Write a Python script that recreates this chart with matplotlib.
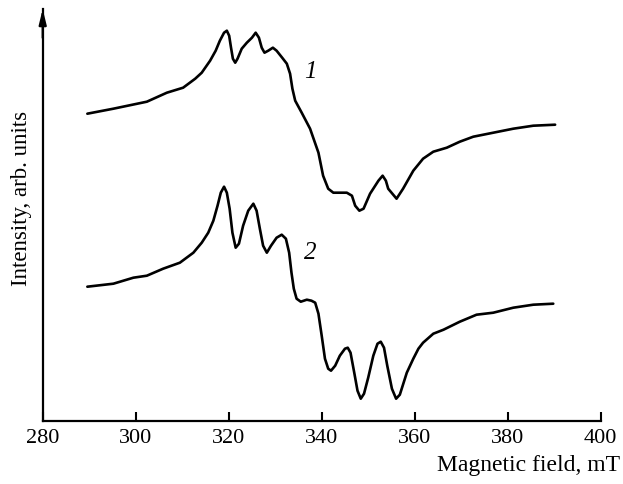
import matplotlib
matplotlib.use("Agg")
import matplotlib.pyplot as plt

# ---- data ----
field_1 = [289.6, 295.2, 302.4, 306.7, 310.2, 312.8, 314.2, 316.0, 317.2, 318.1,
           319.0, 319.6, 320.1, 320.5, 320.9, 321.4, 321.9, 322.8, 323.9, 325.0,
           325.8, 326.5, 327.1, 327.7, 328.5, 329.5, 330.3, 331.5, 332.5, 333.2,
           333.7, 334.3, 335.7, 337.5, 339.3, 340.3, 341.4, 342.5, 345.4, 346.5,
           347.2, 348.1, 349.0, 350.4, 352.2, 353.1, 353.8, 354.3, 356.1, 357.5,
           359.7, 361.8, 364.0, 366.9, 369.7, 372.6, 376.9, 381.2, 385.5, 390.2]
intensity_1 = [307, 312, 319, 328, 333, 342, 348, 360, 370, 380,
               388, 390, 385, 373, 362, 358, 362, 372, 378, 383,
               388, 383, 373, 368, 370, 373, 370, 363, 357, 347,
               332, 320, 308, 292, 268, 245, 232, 228, 228, 225,
               215, 210, 212, 227, 240, 245, 240, 232, 222, 232,
               250, 262, 269, 273, 279, 284, 288, 292, 295, 296]

field_2 = [289.6, 295.2, 299.5, 302.4, 305.9, 309.5, 312.4, 314.2, 315.6, 316.7,
           317.6, 318.3, 319.0, 319.6, 320.2, 320.8, 321.5, 322.2, 323.1, 324.2,
           325.3, 326.0, 326.7, 327.4, 328.2, 329.1, 330.3, 331.4, 332.3, 333.0,
           333.5, 334.0, 334.6, 335.5, 336.8, 337.8, 338.6, 339.3, 340.0, 340.7,
           341.4, 342.0, 342.9, 343.9, 345.0, 345.6, 346.2, 347.0, 347.7, 348.4,
           349.1, 350.0, 351.1, 352.0, 352.7, 353.4, 354.1, 355.1, 356.0, 356.8,
           358.3, 359.7, 360.8, 361.8, 364.0, 366.2, 369.7, 373.3, 376.9, 381.2,
           385.5, 389.8]
intensity_2 = [134, 137, 143, 145, 152, 158, 168, 178, 188, 200,
               215, 228, 234, 228, 212, 188, 173, 177, 195, 210,
               217, 210, 192, 175, 168, 175, 183, 186, 182, 168,
               148, 132, 122, 119, 121, 120, 118, 107, 85, 62,
               52, 50, 55, 65, 72, 73, 68, 48, 30, 22,
               27, 43, 65, 77, 79, 73, 55, 32, 22, 26,
               48, 62, 72, 78, 87, 91, 99, 106, 108, 113,
               116, 117]

curve_labels = ["1", "2"]
label_pos = [(337.5, 350), (337.5, 169)]
xticks = [280, 300, 320, 340, 360, 380, 400]

plt.rcParams['font.family'] = ['Liberation Serif', 'DejaVu Serif']

W, H = 623, 485
fig = plt.figure(figsize=(W / 100, H / 100), dpi=100)
ax = fig.add_axes([42.7 / W, 1 - 421.7 / H, (600.7 - 42.7) / W, (421.7 - 10) / H])

for f, inten in ((field_1, intensity_1), (field_2, intensity_2)):
    ax.plot(f, inten, color='black', lw=1.9, solid_joinstyle='round', solid_capstyle='round')

for lab, (lx, ly) in zip(curve_labels, label_pos):
    ax.text(lx, ly, lab, fontsize=18, style='italic', ha='center', va='center')

ax.set_xlim(280, 400)
ax.set_ylim(0, 411.7)
ax.set_xticks(xticks)
ax.set_yticks([])
ax.tick_params(axis='x', direction='in', length=6.5, width=1.5, labelsize=16, pad=5)
for s in ('top', 'right'):
    ax.spines[s].set_visible(False)
for s in ('left', 'bottom'):
    ax.spines[s].set_linewidth(1.6)

ax.annotate('', xy=(0, 1.0), xytext=(0, 0.93), xycoords='axes fraction',
            arrowprops=dict(arrowstyle='-|>,head_length=0.9,head_width=0.22',
                            color='black', lw=1.6, shrinkA=0, shrinkB=0),
            annotation_clip=False)

fig.text(22 / W, 1 - 198 / H, 'Intensity, arb. units', rotation=90,
         ha='center', va='center', fontsize=16.5)
fig.text(620 / W, 1 - 471 / H, 'Magnetic field, mT', ha='right', va='baseline',
         fontsize=17)

fig.savefig('out.png', dpi=100)
